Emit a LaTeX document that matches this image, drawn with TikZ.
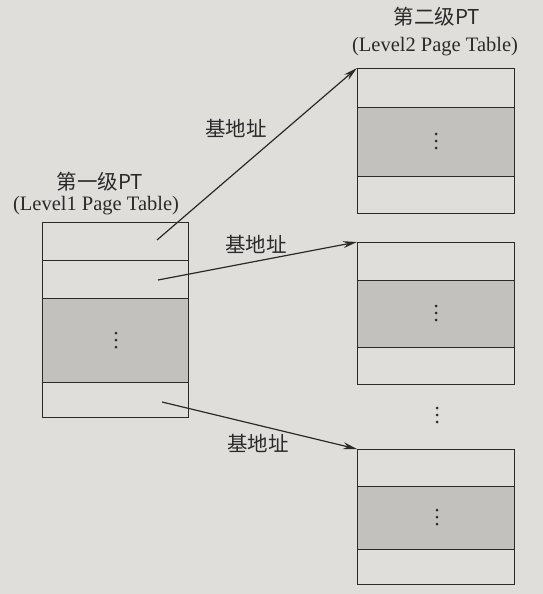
\documentclass[tikz,border=0pt]{standalone}
\usepackage{fontspec}
\setmainfont{Liberation Serif}
\newfontfamily\cjk{Noto Sans CJK SC}
\usetikzlibrary{arrows.meta}
\definecolor{paper}{HTML}{DFDEDB}
\definecolor{shade}{HTML}{C2C1BE}
\definecolor{ink}{HTML}{2A2A2A}
\begin{document}
\begin{tikzpicture}[x=1pt,y=-1pt,
  cell/.style={draw=ink, line width=1.3pt, rectangle, inner sep=0pt, anchor=north west},
  lcell/.style={cell, minimum width=146pt},
  rcell/.style={cell, minimum width=157pt},
  gray cell/.style={fill=shade},
  dot/.style={fill=ink, draw=none, circle, inner sep=0pt, minimum size=3pt},
  lbl/.style={font=\fontsize{20.5}{22}\selectfont, text=ink, inner sep=0pt},
  cjklbl/.style={font=\cjk\fontsize{20.5}{22}\selectfont, text=ink, inner sep=0pt},
  arr/.style={draw=ink, line width=1.2pt, -{Stealth[length=14pt,width=7pt]}}
]
\fill[paper] (0,0) rectangle (543,594);
\useasboundingbox (0,0) rectangle (543,594);

% Level 1 table
\node[lcell, minimum height=38pt] (L1) at (42,222) {};
\node[lcell, minimum height=38pt] (L2) at (42,260) {};
\node[lcell, gray cell, minimum height=84pt] (L3) at (42,298) {};
\node[lcell, minimum height=35pt] (L4) at (42,382) {};

% Level 2 tables
\node[rcell, minimum height=39pt] (A1) at (357,68) {};
\node[rcell, gray cell, minimum height=69pt] (A2) at (357,107) {};
\node[rcell, minimum height=37pt] (A3) at (357,176) {};

\node[rcell, minimum height=38pt] (B1) at (357,242) {};
\node[rcell, gray cell, minimum height=67pt] (B2) at (357,280) {};
\node[rcell, minimum height=37pt] (B3) at (357,347) {};

\node[rcell, minimum height=37pt] (C1) at (357,449) {};
\node[rcell, gray cell, minimum height=63pt] (C2) at (357,486) {};
\node[rcell, minimum height=35pt] (C3) at (357,549) {};

% dots
\foreach \n/\x/\y in {Ld/116/340, Ad/436/141, Bd/436/313, Md/437/415, Cd/437/517}{
  \node[dot] (\n a) at (\x,\y-7) {};
  \node[dot] (\n b) at (\x,\y) {};
  \node[dot] (\n c) at (\x,\y+7) {};
}

% titles
\node[cjklbl] (t1a) at (100,182) {第一级PT};
\node[lbl] (t1b) at (96,206) {(Level1 Page Table)};
\node[cjklbl] (t2a) at (437,17) {第二级PT};
\node[lbl] (t2b) at (435,47) {(Level2 Page Table)};

% arrows
\coordinate (s1) at (157,240);
\coordinate (s2) at (158,280);
\coordinate (s3) at (162,402);
\draw[arr] (s1) -- (A1.north west);
\draw[arr] (s2) -- (B1.north west);
\draw[arr] (s3) -- (C1.north west);

\node[cjklbl] (b1) at (236,128) {基地址};
\node[cjklbl] (b2) at (256,244) {基地址};
\node[cjklbl] (b3) at (258,443) {基地址};
\end{tikzpicture}
\end{document}
